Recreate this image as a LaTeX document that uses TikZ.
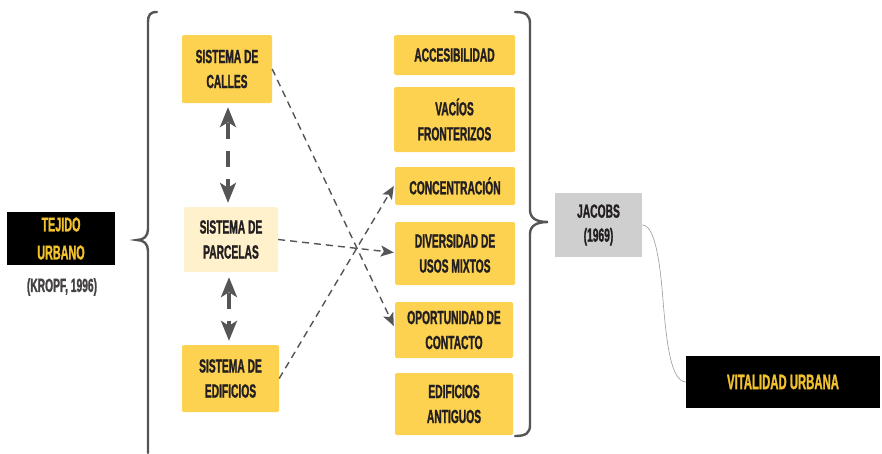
\documentclass[tikz,border=0pt]{standalone}
\usepackage{fontspec}
\newfontfamily\cond{Liberation Sans}[FakeStretch=0.54,FakeBold=1.2]
\usetikzlibrary{arrows.meta,calc}
\definecolor{boxyellow}{HTML}{FDD250}
\definecolor{boxlight}{HTML}{FFF1CC}
\definecolor{boxgray}{HTML}{CFCFCF}
\definecolor{txtdark}{HTML}{231F20}
\definecolor{txtyellow}{HTML}{F2C12E}
\definecolor{linegray}{HTML}{555555}
\definecolor{thingray}{HTML}{9A9A9A}
\begin{document}
\begin{tikzpicture}[x=1pt,y=-1pt,
  lbl/.style={font=\cond\bfseries\fontsize{19}{25}\selectfont, text=txtdark, align=center, inner sep=0pt},
  ybox/.style={lbl, fill=boxyellow, rounded corners=1.5pt},
  lbox/.style={lbl, fill=boxlight, rounded corners=1.5pt},
  gbox/.style={lbl, fill=boxgray, font=\cond\bfseries\fontsize{19}{24}\selectfont},
  kbox/.style={lbl, fill=black, text=txtyellow, font=\cond\bfseries\fontsize{20}{28}\selectfont},
  bracepath/.style={draw=linegray, line width=2.4pt, line cap=round},
  dbl/.style={draw=linegray, line width=3.2pt, dash pattern=on 16pt off 12pt, dash phase=-2pt,
    {Stealth[length=20pt,width=16pt,inset=5pt]}-{Stealth[length=20pt,width=16pt,inset=5pt]}},
  dar/.style={draw=linegray, line width=1.4pt, dash pattern=on 7pt off 5pt, -{Stealth[length=13pt,width=11pt,inset=3pt]}}
]
\useasboundingbox[fill=white] (0,0) rectangle (882,453);

% left column
\node[kbox, minimum width=108pt, minimum height=53pt] (tejido) at (61,238.5) {TEJIDO\\URBANO};
\node[lbl, font=\cond\bfseries\fontsize{19}{19}\selectfont, text=txtdark!85] (kropf) at (62,287) {(KROPF, 1996)};

% sistemas
\node[ybox, minimum width=90pt, minimum height=68pt] (calles) at (227,69) {SISTEMA DE\\CALLES};
\node[lbox, minimum width=94pt, minimum height=65pt] (parc) at (231,239.5) {SISTEMA DE\\PARCELAS};
\node[ybox, minimum width=97pt, minimum height=67pt] (edif) at (230.5,378.5) {SISTEMA DE\\EDIFICIOS};

% right column
\node[ybox, minimum width=121pt, minimum height=40pt] (acc) at (454.5,55) {ACCESIBILIDAD};
\node[ybox, minimum width=121pt, minimum height=65pt] (vac) at (454.5,119.5) {VACÍOS\\FRONTERIZOS};
\node[ybox, minimum width=120pt, minimum height=38pt] (conc) at (455,186) {CONCENTRACIÓN};
\node[ybox, minimum width=120pt, minimum height=63pt] (div) at (455,253.5) {DIVERSIDAD DE\\USOS MIXTOS};
\node[ybox, minimum width=118pt, minimum height=56pt] (op) at (454,330) {OPORTUNIDAD DE\\CONTACTO};
\node[ybox, minimum width=118pt, minimum height=62pt] (ant) at (454,404) {EDIFICIOS\\ANTIGUOS};

% jacobs and vitalidad
\node[gbox, minimum width=87pt, minimum height=64pt] (jacobs) at (598.5,225) {JACOBS\\(1969)};
\node[kbox, minimum width=194pt, minimum height=52pt, font=\cond\bfseries\fontsize{21}{28}\selectfont] (vital) at (783,382) {VITALIDAD URBANA};

% braces
\path[bracepath] (157,12) .. controls (150,12) and (148,15) .. (148,22) -- (148,229)
  .. controls (148,236) and (144,240) .. (137,240)
  .. controls (144,240) and (148,244) .. (148,251) -- (148,453);
\path[bracepath] (515,12) .. controls (526,12) and (530,15) .. (530,24) -- (530,210)
  .. controls (530,218) and (536,222) .. (548,222)
  .. controls (536,222) and (530,226) .. (530,234) -- (530,425)
  .. controls (530,433) and (526,436) .. (515,436);

% vertical double arrows
\draw[dbl] ($(calles.south)+(1,4)$) -- ($(parc.north)+(-3,-4)$);
\draw[dbl] ($(parc.south)+(-2,5)$) -- ($(edif.north)+(-1.5,-4)$);

% diagonal arrows
\draw[dar] (calles.east) -- ($(op.west)+(-1,-4)$);
\draw[dar] (parc.east) -- ($(div.west)+(-1,-1)$);
\draw[dar] (edif.east) -- ($(conc.west)+(-1,0)$);

% thin connector
\draw[thingray, line width=0.6pt] (jacobs.east) .. controls (655,225) and (660,262) .. (663,300)
  .. controls (667,350) and (672,381) .. (vital.west);
\end{tikzpicture}
\end{document}
